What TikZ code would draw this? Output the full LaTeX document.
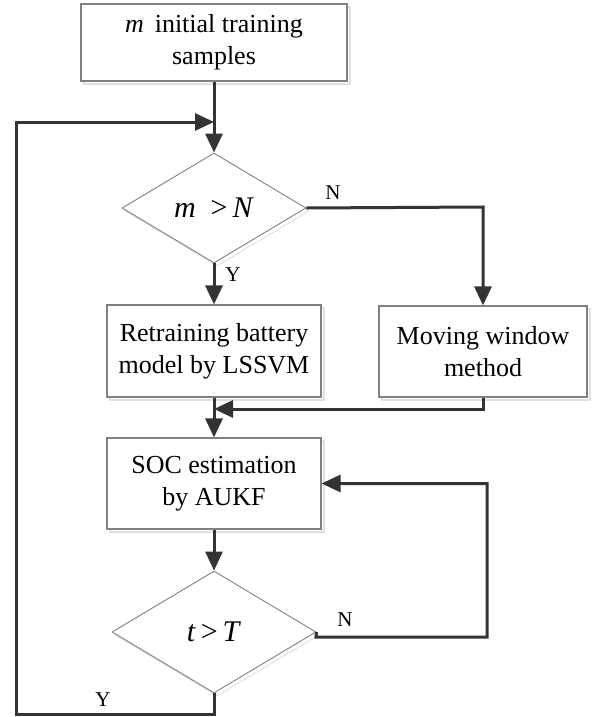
\documentclass[tikz,border=0pt]{standalone}
\usepackage{fontspec}
\setmainfont{Liberation Serif}
\usetikzlibrary{arrows.meta,shapes.geometric,shadows}
\definecolor{lineC}{HTML}{333333}
\definecolor{boxC}{HTML}{808080}
\begin{document}
\begin{tikzpicture}[x=1pt,y=-1pt,
  box/.style={draw=boxC,line width=1.1pt,fill=white,rectangle,inner sep=0pt,align=center,
    font=\fontsize{26}{32}\selectfont,
    copy shadow={shadow xshift=3pt,shadow yshift=-3pt,draw=black!12,fill=white,line width=1.1pt}},
  dec/.style={draw=boxC,line width=0.9pt,fill=white,diamond,aspect=1.6,inner sep=0pt,
    font=\fontsize{30}{36}\selectfont,
    copy shadow={shadow xshift=3pt,shadow yshift=-3pt,draw=black!12,fill=white,line width=0.9pt}},
  conn/.style={draw=lineC,line width=3pt},
  arr/.style={conn,-{Triangle[length=19pt,width=17pt]}},
  lab/.style={font=\fontsize{21}{24}\selectfont,text=black,inner sep=0pt}]
\useasboundingbox (0,0) rectangle (598,717);
% nodes
\node[box,minimum width=266pt,minimum height=77pt] (start) at (214,42.5) {\textit{m}\, initial training\\samples};
\node[dec,minimum width=184pt,minimum height=110pt] (d1) at (214,208) {\textit{m}\ \ >\,\textit{N}};
\node[box,minimum width=214pt,minimum height=92pt] (retrain) at (214,351) {Retraining battery\\model by LSSVM};
\node[box,minimum width=208pt,minimum height=91pt] (mw) at (483,351.5) {Moving window\\method};
\node[box,minimum width=214pt,minimum height=91pt] (soc) at (214,483.5) {SOC estimation\\by AUKF};
\node[dec,minimum width=204pt,minimum height=122pt] (d2) at (214,632) {\textit{t}\,>\,\textit{T}};
% coordinates
\coordinate (join) at (214,122);
\coordinate (merge) at (214,409);
\coordinate (blc) at (16,714);
\coordinate (brc) at (214,714);
\coordinate (tlc) at (16,122);
\coordinate (nr) at (483,207);
\coordinate (mwb) at (483,409);
\coordinate (d2e) at (316,637);
\coordinate (fbr) at (487,637);
\coordinate (fbt) at (487,483.5);
% connectors
\draw[arr] (start.south) -- (d1.north);
\draw[arr] (d2.south) -- (brc) -- (blc) -- (tlc) -- (join);
\draw[arr] (d1.east) -- (nr) -- (mw.north);
\draw[arr] (d1.south) -- (retrain.north);
\draw[arr] (retrain.south) -- (soc.north);
\draw[arr] (mw.south) -- (mwb) -- (merge);
\draw[arr] (soc.south) -- (d2.north);
\draw[arr] (d2.east) -- (d2e) -- (fbr) -- (fbt) -- (soc.east);
% labels
\node[lab] (ly1) at (233,275) {Y};
\node[lab] (ln1) at (333,193) {N};
\node[lab] (ln2) at (345,620) {N};
\node[lab] (ly2) at (103,700) {Y};
\end{tikzpicture}
\end{document}
